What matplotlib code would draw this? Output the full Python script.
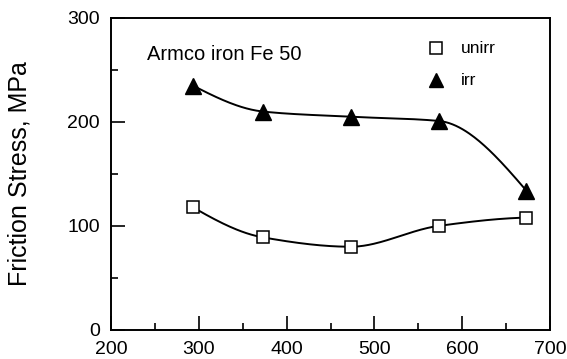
import matplotlib
matplotlib.use("Agg")
import matplotlib.pyplot as plt
import numpy as np

# test temperatures [K] and friction stress [MPa]
temps = [293, 373, 473, 573, 673]
unirr = [118, 89, 80, 100, 108]
irr = [235, 210, 205, 201, 134]

plt.rcParams.update({"font.family": ["Liberation Sans", "DejaVu Sans"]})


def smooth_curve(x, y, n=200):
    """Monotone cubic (Fritsch-Carlson) curve through the points."""
    x = np.asarray(x, float)
    y = np.asarray(y, float)
    h = np.diff(x)
    d = np.diff(y) / h
    k = len(x)
    m = np.zeros(k)
    for i in range(1, k - 1):
        if d[i - 1] * d[i] > 0:
            w1 = 2 * h[i] + h[i - 1]
            w2 = h[i] + 2 * h[i - 1]
            m[i] = (w1 + w2) / (w1 / d[i - 1] + w2 / d[i])
    m[0] = ((2 * h[0] + h[1]) * d[0] - h[0] * d[1]) / (h[0] + h[1])
    if np.sign(m[0]) != np.sign(d[0]):
        m[0] = 0
    m[-1] = ((2 * h[-1] + h[-2]) * d[-1] - h[-1] * d[-2]) / (h[-1] + h[-2])
    if np.sign(m[-1]) != np.sign(d[-1]):
        m[-1] = 0
    xs = np.linspace(x[0], x[-1], n)
    j = np.clip(np.searchsorted(x, xs) - 1, 0, k - 2)
    t = (xs - x[j]) / h[j]
    h00 = 2 * t**3 - 3 * t**2 + 1
    h10 = t**3 - 2 * t**2 + t
    h01 = -2 * t**3 + 3 * t**2
    h11 = t**3 - t**2
    ys = h00 * y[j] + h10 * h[j] * m[j] + h01 * y[j + 1] + h11 * h[j] * m[j + 1]
    return xs, ys


fig = plt.figure(figsize=(5.67, 3.59), dpi=100)
ax = fig.add_axes([0.196, 0.081, 0.774, 0.869])

for vals in (unirr, irr):
    xs, ys = smooth_curve(temps, vals)
    ax.plot(xs, ys, color="black", lw=1.4, zorder=2)

ax.plot(temps, unirr, "s", ms=9, mfc="white", mec="black", mew=1.1,
        zorder=3)
ax.plot(temps, irr, "^", ms=11, color="black", zorder=3)

# hand-made legend like the original
ax.plot([570], [271], "s", ms=8, mfc="white", mec="black", mew=1.1)
ax.text(598, 271, "unirr", fontsize=12.5, va="center")
ax.plot([570], [240], "^", ms=10, color="black")
ax.text(598, 240, "irr", fontsize=12.5, va="center")

ax.text(241, 265, "Armco iron Fe 50", fontsize=14.5, va="center")

ax.set_xlim(200, 700)
ax.set_ylim(0, 300)
ax.set_xticks(range(200, 701, 100))
ax.set_xticks(range(250, 700, 100), minor=True)
ax.set_yticks(range(0, 301, 100))
ax.set_yticks(range(50, 300, 100), minor=True)
ax.tick_params(which="both", direction="in", labelsize=14, width=1.2,
               top=False, right=False)
ax.tick_params(which="major", length=10, pad=8)
ax.tick_params(which="minor", length=5)
for s in ax.spines.values():
    s.set_linewidth(1.4)
ax.set_ylabel("Friction Stress, MPa", fontsize=18, labelpad=26)

fig.savefig("out.png", dpi=100)
